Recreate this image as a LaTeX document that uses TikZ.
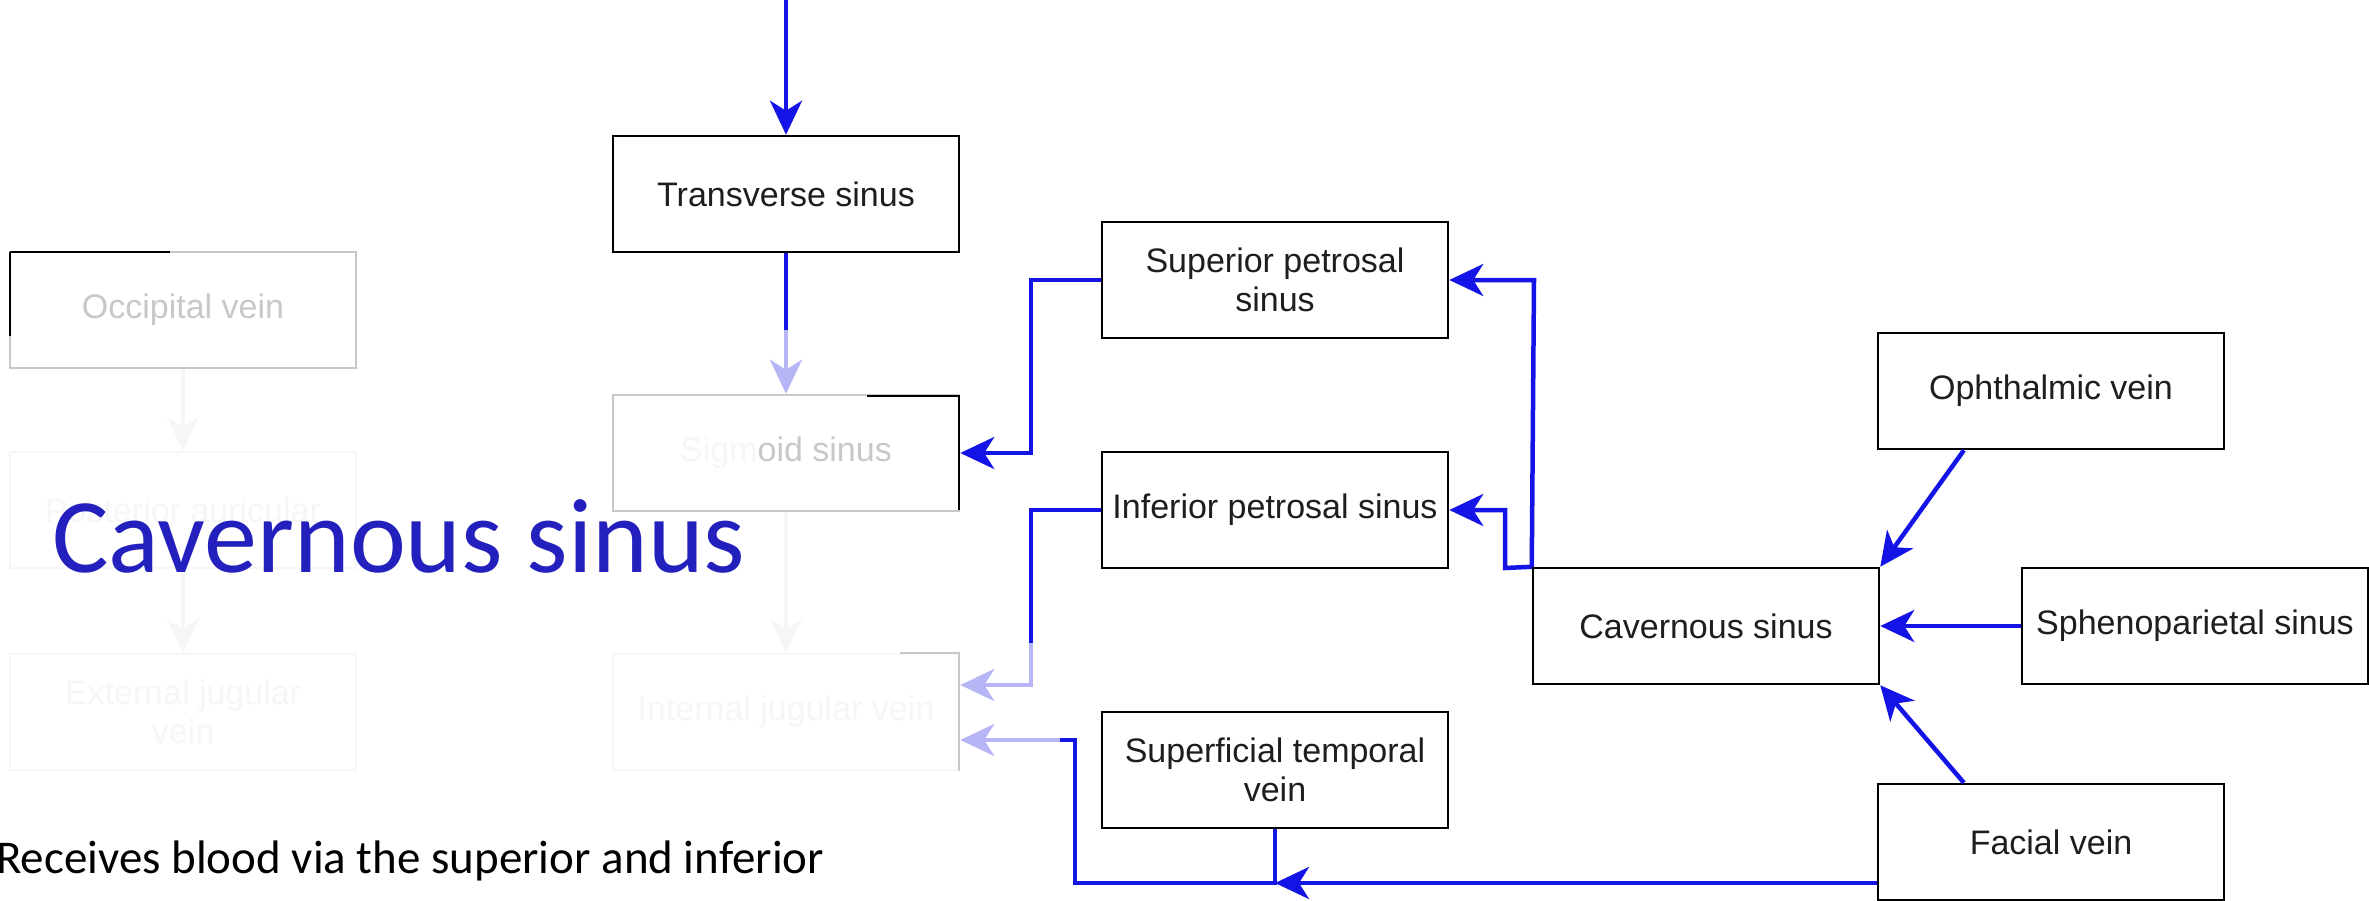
\documentclass[tikz,border=0pt]{standalone}
\usepackage{fontspec}
\setmainfont{Liberation Sans}
\newfontfamily\calib{Carlito}
\usetikzlibrary{arrows.meta,calc}
\definecolor{lineblue}{RGB}{20,20,230}
\definecolor{fadeblue}{RGB}{182,182,246}
\definecolor{titleblue}{RGB}{36,32,190}
\definecolor{fadegray}{RGB}{200,200,200}
\definecolor{faintgray}{RGB}{246,246,246}
\definecolor{boxtext}{RGB}{30,30,30}
\begin{document}
\begin{tikzpicture}[x=1pt,y=-1pt,
  vbox/.style={draw=black, line width=2.5pt, minimum width=346pt, minimum height=116pt,
    inner sep=0pt, align=center, font=\fontsize{34}{39}\selectfont, text=boxtext, fill=white},
  fadebox/.style={vbox, draw=fadegray, text=fadegray},
  faintbox/.style={vbox, draw=faintgray, text=faintgray},
  tipstyle/.style={-{Stealth[length=34pt,width=32pt,inset=10pt]}},
  flow/.style={draw=lineblue, line width=4.5pt, line join=miter, tipstyle},
  plain/.style={draw=lineblue, line width=4.5pt, line join=miter},
  fadeflow/.style={draw=fadeblue, line width=4.5pt, line join=miter, tipstyle},
  faintflow/.style={draw=faintgray, line width=4pt, tipstyle},
  edgeblack/.style={draw=black, line width=2.5pt},
  edgegray/.style={draw=fadegray, line width=2.5pt}
]
\useasboundingbox (0,0) rectangle (2369,900);

% faded left part
\node[fadebox] (occ) at (183,310) {Occipital vein};
\node[faintbox] (post) at (183,510) {Posterior auricular};
\node[faintbox] (ext) at (183,712) {External jugular\\vein};
\node[faintbox] (ij) at (786,712) {Internal jugular vein};
\node[fadebox] (sig) at (786,453) {{\color{faintgray}Sigm}oid sinus};

% partial black / gray edges left by the fade
\draw[edgeblack] (10,252) -- (170,252);
\draw[edgeblack] (10,252) -- (10,336);
\draw[edgeblack] (867,396) -- (959,396) -- (959,510);
\draw[edgegray] (900,653) -- (959,653) -- (959,771);

% main boxes
\node[vbox] (trans) at (786,194) {Transverse sinus};
\node[vbox] (sup) at (1275,280) {Superior petrosal\\sinus};
\node[vbox] (inf) at (1275,510) {Inferior petrosal sinus};
\node[vbox] (st) at (1275,770) {Superficial temporal\\vein};
\node[vbox] (cav) at (1706,626) {Cavernous sinus};
\node[vbox] (oph) at (2051,391) {Ophthalmic vein};
\node[vbox] (sphen) at (2195,626) {Sphenoparietal sinus};
\node[vbox] (facial) at (2051,842) {Facial vein};

% faint connectors
\draw[faintflow] (occ.south) -- (post.north);
\draw[faintflow] (post.south) -- (ext.north);
\draw[faintflow] (sig.south) -- (ij.north);

% connectors
\coordinate (topin) at (786,0);
\draw[flow] (topin) -- (trans.north);

\coordinate (tsmid) at (786,330);
\draw[plain] (trans.south) -- (tsmid);
\draw[fadeflow] (tsmid) -- (sig.north);

\coordinate (c1) at (1031,280);
\coordinate (c2) at (1031,453);
\draw[flow] (sup.west) -- (c1) -- (c2) -- (sig.east);

\coordinate (d1) at (1031,510);
\coordinate (d2) at (1031,643);
\coordinate (d3) at (1031,685);
\draw[plain] (inf.west) -- (d1) -- (d2);
\draw[fadeflow] (d2) -- (d3) -- (ij.east |- d3);

\coordinate (e1) at (1534,280);
\draw[flow] (cav.north west) -- (e1) -- (sup.east);

\coordinate (f1) at (1505,568);
\coordinate (f2) at (1505,510);
\draw[flow] (cav.north west) -- (f1) -- (f2) -- (inf.east);

\draw[flow] ($(oph.south west)!0.25!(oph.south east)$) -- (cav.north east);
\draw[flow] ($(facial.north west)!0.25!(facial.north east)$) -- (cav.south east);
\draw[flow] (sphen.west) -- (cav.east);

\coordinate (gj) at (1275,883);
\coordinate (h1) at (1075,883);
\coordinate (h2) at (1075,740);
\coordinate (h3) at (1060,740);
\draw[plain] (st.south) -- (gj) -- (h1) -- (h2) -- (h3);
\draw[flow] (facial.west |- gj) -- (gj);
\draw[fadeflow] (h3) -- (ij.east |- h3);

% slide text
\node[anchor=base west, inner sep=0pt, font=\calib\fontsize{106}{120}\selectfont, text=titleblue]
  (title) at (52,572) {Cavernous sinus};
\node[anchor=base west, inner sep=0pt, font=\calib\fontsize{47}{56}\selectfont, text=black]
  (recv) at (-4,873) {Receives blood via the superior and inferior};
\end{tikzpicture}
\end{document}
